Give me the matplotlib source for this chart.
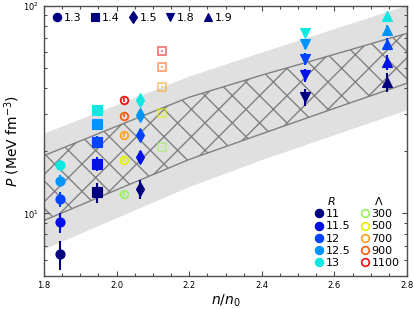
import numpy as np
import matplotlib
matplotlib.use('Agg')
import matplotlib.pyplot as plt
from matplotlib.lines import Line2D
from matplotlib.ticker import MultipleLocator

# bands (gray = outer, hatched = inner)
n_band    = [1.8, 2.0, 2.2, 2.4, 2.6, 2.8]
gray_lo   = [6.76, 9.55, 13.5, 18.2, 24.0, 31.6]
gray_hi   = [24.4, 33.5, 46.0, 60.0, 77.8, 101.]
hatch_lo  = [9.25, 13.0, 18.2, 24.2, 32.1, 42.4]
hatch_hi  = [19.0, 26.3, 36.3, 46.4, 58.4, 73.8]

# filled symbols: one mass each, five radii
R_vals   = [11, 11.5, 12, 12.5, 13]
R_colors = ['#00007f', '#0010e6', '#0044ff', '#0094ff', '#12e6e0']
masses   = ['1.3', '1.4', '1.5', '1.8', '1.9']
markers  = ['o', 's', 'd', 'v', '^']
n_mass   = [1.845, 1.945, 2.065, 2.52, 2.745]
P_mass   = [[6.35, 9.05, 11.7, 14.4, 17.1],
            [12.65, 17.4, 22.1, 26.9, 31.6],
            [13.1, 18.7, 24.0, 29.7, 35.3],
            [36.4, 46.4, 55.5, 65.2, 74.1],
            [42.8, 53.8, 65.5, 76.7, 88.9]]
err_mass = [1.0, 1.4, 1.4, 3.5, 4.5]

# open symbols: tidal deformability
Lam_vals   = [300, 500, 700, 900, 1100]
Lam_colors = ['#9cf060', '#e6f000', '#ffa020', '#ff5a10', '#ee1010']
n_lam_c = 2.02
P_lam_c = [12.4, 18.1, 23.9, 29.6, 35.2]
n_lam_s = 2.125
P_lam_s = [20.9, 30.6, 40.6, 50.5, 60.5]
err_lam = [0.25, 0.35, 0.45, 0.55, 0.65]

# low dpi so the 'x' hatch gets the right cell size; sizes scaled back up
dpi = 82
sc = 100. / dpi
plt.rcParams['hatch.linewidth'] = 1.0 * sc

fig = plt.figure(figsize=(415. / dpi, 309. / dpi), dpi=dpi)
ax = fig.add_axes([0.106, 0.107, 0.875, 0.874])

ax.fill_between(n_band, gray_lo, gray_hi, color='#e0e0e0', lw=0, zorder=0)
ax.fill_between(n_band, hatch_lo, hatch_hi, facecolor='none', edgecolor='#808080',
                hatch='x', lw=1.0 * sc, zorder=1)

for k in range(5):
    for j in range(5):
        ax.errorbar(n_mass[k], P_mass[k][j], yerr=err_mass[k], fmt=markers[k],
                    color=R_colors[j], ms=(6.5 if markers[k] != 'd' else 7) * sc,
                    elinewidth=1.5 * sc, capsize=0, zorder=3)

for j in range(5):
    ax.errorbar(n_lam_c, P_lam_c[j], yerr=err_lam[j], fmt='o', mfc='none',
                mec=Lam_colors[j], ecolor=Lam_colors[j], ms=5.5 * sc, mew=1.3 * sc,
                elinewidth=1.2 * sc, zorder=3)
    ax.errorbar(n_lam_s, P_lam_s[j], yerr=err_lam[j], fmt='s', mfc='none',
                mec=Lam_colors[j], ecolor=Lam_colors[j], ms=5.5 * sc, mew=1.2 * sc,
                elinewidth=1.2 * sc, alpha=0.6, zorder=3)

ax.set_yscale('log')
ax.set_xlim(1.8, 2.8)
ax.set_ylim(5, 100)
ax.xaxis.set_major_locator(MultipleLocator(0.2))
ax.xaxis.set_minor_locator(MultipleLocator(0.05))
ax.tick_params(which='both', direction='in', top=True, right=True,
               labelsize=6 * sc, color='0.3', width=0.8 * sc, pad=3.5 * sc)
ax.tick_params(which='major', length=3.5 * sc)
ax.tick_params(which='minor', length=2 * sc)
for s in ax.spines.values():
    s.set_color('0.3')
    s.set_linewidth(1.0 * sc)

ax.set_xlabel(r'$n/n_0$', fontsize=10 * sc, labelpad=2 * sc)
ax.set_ylabel(r'$P$ (MeV fm$^{-3}$)', fontsize=10 * sc, labelpad=1 * sc)

# mass legend
h_mass = [Line2D([], [], ls='none', marker=m, color='#00007f', ms=6 * sc) for m in markers]
leg1 = ax.legend(h_mass, masses, loc='upper left', ncol=5, frameon=False,
                 fontsize=8 * sc, handletextpad=0.0, columnspacing=0.6,
                 handlelength=1.2, borderaxespad=0.2)
ax.add_artist(leg1)

h_R = [Line2D([], [], ls='none', marker='o', color=c, ms=6 * sc) for c in R_colors]
leg2 = ax.legend(h_R, [str(r) for r in R_vals], title=r'$R$', loc='lower right',
                 bbox_to_anchor=(0.865, 0.0), frameon=False, fontsize=8 * sc,
                 title_fontsize=8 * sc, handletextpad=0.0, handlelength=1.2,
                 labelspacing=0.2, borderaxespad=0.3)
ax.add_artist(leg2)

h_L = [Line2D([], [], ls='none', marker='o', mfc='none', mec=c, mew=1.2 * sc,
              ms=5.5 * sc) for c in Lam_colors]
leg3 = ax.legend(h_L, [str(l) for l in Lam_vals], title=r'$\Lambda$',
                 loc='lower right', bbox_to_anchor=(1.0, 0.0), frameon=False,
                 fontsize=8 * sc, title_fontsize=8 * sc, handletextpad=0.0,
                 handlelength=1.2, labelspacing=0.2, borderaxespad=0.3)

plt.savefig('out.png', dpi=dpi)
